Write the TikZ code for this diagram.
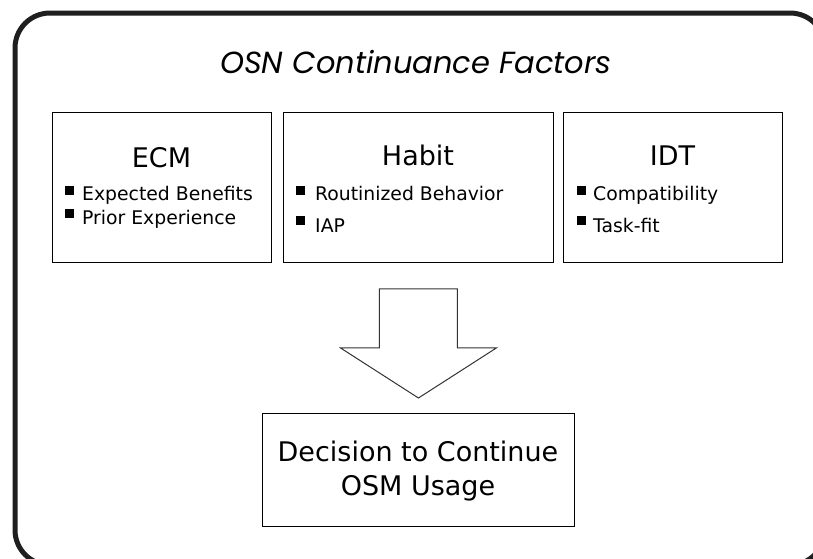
\documentclass[tikz,border=0pt]{standalone}
\usepackage{fontspec}
\setmainfont{DejaVu Sans}
\newfontfamily\titlefont{Poppins}
\usetikzlibrary{calc}
\begin{document}
\begin{tikzpicture}[x=1pt,y=-1pt,
  fbox/.style={draw, line width=0.9pt, inner sep=0pt, anchor=north west},
  head/.style={anchor=base, font=\fontsize{27}{28}\selectfont},
  item/.style={anchor=base west, inner sep=0pt, font=\fontsize{18.8}{20}\selectfont},
  bul/.style={fill=black, draw=none, minimum size=9pt, inner sep=0pt, anchor=north west},
  blockarrow/.style={draw=black!80, line width=1pt, line join=miter, fill=white}]
\useasboundingbox (0,0) rectangle (813,558);
\clip (0,0) rectangle (813,558);
\draw[line width=5pt, draw=black!88, rounded corners=35pt] (15,13) rectangle (825,565);
\node[anchor=base, font=\titlefont\itshape\fontsize{30.5}{32}\selectfont] (title) at (416,73) {OSN Continuance Factors};
% boxes
\node[fbox, minimum width=219pt, minimum height=150pt] (ecm) at (52,112) {};
\node[fbox, minimum width=270pt, minimum height=150pt] (habit) at (283,112) {};
\node[fbox, minimum width=219pt, minimum height=150pt] (idt) at (563,112) {};
% ECM
\node[head] (ecmT) at (161.5,167) {ECM};
\node[bul] (ecmB1) at (65,186) {};
\node[item] (ecm1) at (82,200) {Expected Benefits};
\node[bul] (ecmB2) at (65,209) {};
\node[item] (ecm2) at (82,224) {Prior Experience};
% Habit
\node[head] (habitT) at (418,165) {Habit};
\node[bul] (habB1) at (296,186) {};
\node[item] (hab1) at (315,200) {Routinized Behavior};
\node[bul] (habB2) at (296,216) {};
\node[item] (hab2) at (315,232) {IAP};
% IDT
\node[head] (idtT) at (672.5,165) {IDT};
\node[bul] (idtB1) at (577,186) {};
\node[item] (idt1) at (593,200) {Compatibility};
\node[bul] (idtB2) at (577,216) {};
\node[item] (idt2) at (593,232) {Task-fit};
% decision
\node[fbox, minimum width=312pt, minimum height=113pt] (dec) at (262,413) {};
\node[head] (dec1) at (418,461) {Decision to Continue};
\node[head] (dec2) at (418,495) {OSM Usage};
% block arrow from factors to decision
\coordinate (aTop) at ($(habit.south)+(0,26)$);
\coordinate (aTip) at ($(dec.north)+(0,-15)$);
\draw[blockarrow] ($(aTop)+(-39,0)$) -- ($(aTop)+(39,0)$) -- ($(aTop)+(39,59)$) -- ($(aTop)+(78,59)$) -- (aTip) -- ($(aTop)+(-78,59)$) -- ($(aTop)+(-39,59)$) -- cycle;
\end{tikzpicture}
\end{document}
